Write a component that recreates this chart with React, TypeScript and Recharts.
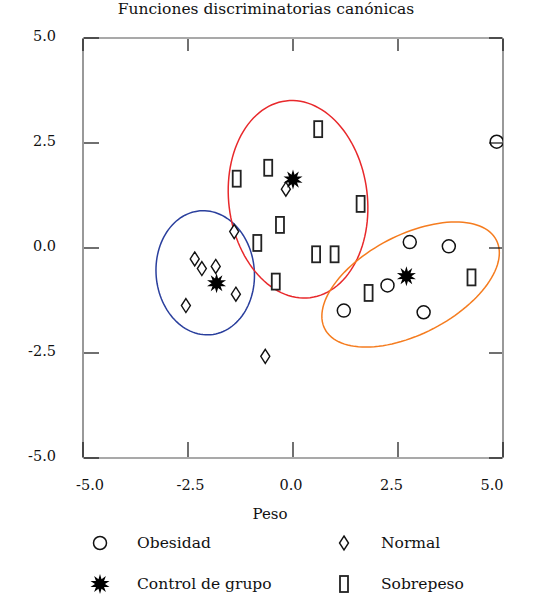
import React from "react";
import { ScatterChart, Scatter, XAxis, YAxis } from "recharts";

// group points (canonical function 1 = Peso, function 2)
const obesidadX = [4.85, 2.78, 3.71, 2.25, 1.21, 3.11];
const obesidadY = [2.53, 0.14, 0.04, -0.89, -1.49, -1.53];

const normalX = [-1.4, -2.34, -2.17, -1.84, -1.36, -2.55, -0.66, -0.17];
const normalY = [0.39, -0.26, -0.49, -0.44, -1.1, -1.37, -2.58, 1.4];

const sobrepesoX = [0.6, -0.59, -1.34, 1.61, -0.31, -0.85, 0.55, 0.99, -0.41, 1.8, 4.25];
const sobrepesoY = [2.83, 1.91, 1.65, 1.05, 0.55, 0.12, -0.15, -0.15, -0.8, -1.07, -0.7];

const centroidX = [-1.82, 0.0, 2.7];
const centroidY = [-0.84, 1.63, -0.67];

// confidence ellipses: centre, semi-axes, rotation (deg)
const ellipseNames = ["Normal", "Sobrepeso", "Obesidad"];
const ellipseCx = [-2.09, 0.12, 2.8];
const ellipseCy = [-0.59, 1.16, -0.87];
const ellipseA = [1.48, 2.36, 2.3];
const ellipseB = [1.17, 1.65, 1.18];
const ellipseRot = [95, 97, 27.4];
const ellipseColors = ["#2a3f9d", "#e8282b", "#f57c1f"];

const ticks = [-5, -2.5, 0, 2.5, 5];
const FONT = "'DejaVu Serif', serif";

const toPoints = (xs: number[], ys: number[]) => xs.map((x, i) => ({ x, y: ys[i] }));

const ellipsePoints = (i: number) => {
  const pts = [];
  const th = (ellipseRot[i] * Math.PI) / 180;
  for (let k = 0; k <= 120; k++) {
    const t = (k / 120) * 2 * Math.PI;
    const u = ellipseA[i] * Math.cos(t);
    const v = ellipseB[i] * Math.sin(t);
    pts.push({
      x: ellipseCx[i] + u * Math.cos(th) - v * Math.sin(th),
      y: ellipseCy[i] + u * Math.sin(th) + v * Math.cos(th),
    });
  }
  return pts;
};

const CircleShape = (p: any) => (
  <circle cx={p.cx} cy={p.cy} r={6.5} fill="#fff" stroke="#111" strokeWidth={1.5} />
);
const DiamondShape = (p: any) => (
  <path
    d={`M${p.cx},${p.cy - 7} L${p.cx + 4.5},${p.cy} L${p.cx},${p.cy + 7} L${p.cx - 4.5},${p.cy} Z`}
    fill="#fff"
    stroke="#111"
    strokeWidth={1.4}
  />
);
const RectShape = (p: any) => (
  <rect x={p.cx - 4} y={p.cy - 8} width={8} height={16} fill="#fff" stroke="#222" strokeWidth={1.8} />
);
const starPath = (cx: number, cy: number, ro: number, ri: number) => {
  let d = "";
  for (let k = 0; k < 20; k++) {
    const r = k % 2 === 0 ? ro : ri;
    const a = (k * Math.PI) / 10 - Math.PI / 2;
    d += `${k === 0 ? "M" : "L"}${cx + r * Math.cos(a)},${cy + r * Math.sin(a)} `;
  }
  return d + "Z";
};
const StarShape = (p: any) => <path d={starPath(p.cx, p.cy, 10, 5)} fill="#000" />;
const NoShape = () => <g />;

const BottomTick = (p: any) => {
  const { x, y, payload } = p;
  const lx = x + 7 - (x - 83) * 0.043;
  return (
    <g>
      <line x1={x} y1={y - 1} x2={x} y2={y - 16} stroke="#111" strokeWidth={1.2} />
      <text x={lx} y={y + 32} textAnchor="middle" fontFamily={FONT} fontSize={14.5} fill="#111">
        {payload.value.toFixed(1)}
      </text>
    </g>
  );
};
const TopTick = (p: any) => (
  <line x1={p.x} y1={p.y + 1} x2={p.x} y2={p.y + 13} stroke="#111" strokeWidth={1.2} />
);
const LeftTick = (p: any) => {
  const { x, y, payload } = p;
  return (
    <g>
      <line x1={x + 1} y1={y} x2={x + 16} y2={y} stroke="#111" strokeWidth={1.2} />
      <text x={x - 27} y={y + 3} textAnchor="end" fontFamily={FONT} fontSize={14.5} fill="#111">
        {payload.value.toFixed(1)}
      </text>
    </g>
  );
};
const RightTick = (p: any) => (
  <line x1={p.x - 1} y1={p.y} x2={p.x - 14} y2={p.y} stroke="#111" strokeWidth={1.2} />
);

const legendItems = [
  { label: "Obesidad", Shape: CircleShape, col: 0, row: 0 },
  { label: "Normal", Shape: DiamondShape, col: 1, row: 0 },
  { label: "Control de grupo", Shape: StarShape, col: 0, row: 1 },
  { label: "Sobrepeso", Shape: RectShape, col: 1, row: 1 },
];

const axisCommon = {
  type: "number" as const,
  domain: [-5, 5],
  ticks,
  tickSize: 0,
  tickMargin: 0,
  tickLine: false,
  axisLine: { stroke: "#555", strokeWidth: 1.2 },
  allowDataOverflow: true,
  interval: 0 as const,
};

export default function App() {
  return (
    <div style={{ position: "absolute", left: 0, top: 0, width: 546, height: 609, background: "#fff" }}>
      <ScatterChart width={546} height={609} margin={{ top: 37, right: 42, bottom: 150, left: 82 }}>
        <text x={266} y={14} textAnchor="middle" fontFamily={FONT} fontSize={15.5} fill="#111">
          Funciones discriminatorias canónicas
        </text>
        <text x={270} y={519} textAnchor="middle" fontFamily={FONT} fontSize={15} fill="#111">
          Peso
        </text>
        <XAxis xAxisId={0} dataKey="x" height={1} tick={BottomTick} {...axisCommon} />
        <XAxis xAxisId="top" orientation="top" dataKey="x" height={1} tick={TopTick} {...axisCommon} />
        <YAxis yAxisId={0} dataKey="y" width={1} tick={LeftTick} {...axisCommon} />
        <YAxis yAxisId="right" orientation="right" dataKey="y" width={1} tick={RightTick} {...axisCommon} />
        {ellipseNames.map((name, i) => (
          <Scatter
            key={name}
            name={`${name} elipse`}
            data={ellipsePoints(i)}
            fill={ellipseColors[i]}
            line={{ stroke: ellipseColors[i], strokeWidth: 1.5 }}
            lineType="joint"
            shape={NoShape}
            legendType="none"
            isAnimationActive={false}
          />
        ))}
        <Scatter name="Obesidad" data={toPoints(obesidadX, obesidadY)} shape={CircleShape} isAnimationActive={false} />
        <Scatter name="Normal" data={toPoints(normalX, normalY)} shape={DiamondShape} isAnimationActive={false} />
        <Scatter name="Sobrepeso" data={toPoints(sobrepesoX, sobrepesoY)} shape={RectShape} isAnimationActive={false} />
        <Scatter name="Control de grupo" data={toPoints(centroidX, centroidY)} shape={StarShape} isAnimationActive={false} />
      </ScatterChart>
      <svg width={546} height={80} style={{ position: "absolute", left: 0, top: 525 }}>
        {legendItems.map(({ label, Shape, col, row }) => {
          const sx = col === 0 ? 100 : 344;
          const sy = row === 0 ? 18 : 59;
          return (
            <g key={label}>
              <Shape cx={sx} cy={sy} />
              <text x={sx + 37} y={sy + 5} fontFamily={FONT} fontSize={15.5} fill="#111">
                {label}
              </text>
            </g>
          );
        })}
      </svg>
    </div>
  );
}
